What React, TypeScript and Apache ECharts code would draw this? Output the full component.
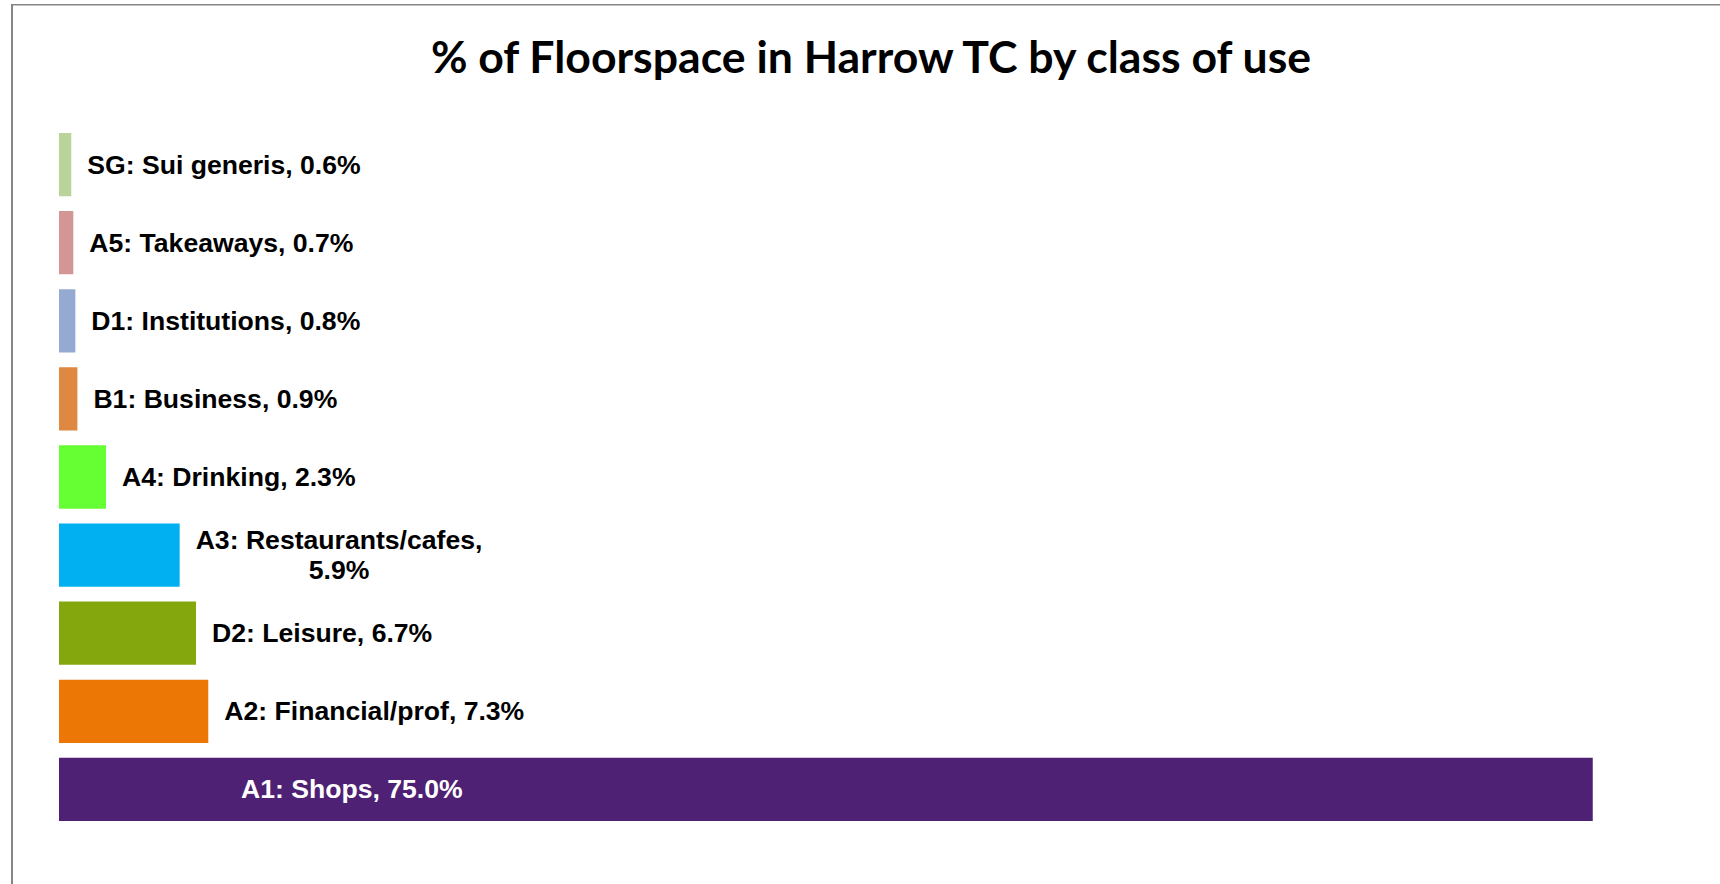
import React, { useEffect, useRef } from "react";
import * as echarts from "echarts";

const titleText = "% of Floorspace in Harrow TC by class of use";
const categories = [
  "SG: Sui generis",
  "A5: Takeaways",
  "D1: Institutions",
  "B1: Business",
  "A4: Drinking",
  "A3: Restaurants/cafes",
  "D2: Leisure",
  "A2: Financial/prof",
  "A1: Shops",
];
const values = [0.6, 0.7, 0.8, 0.9, 2.3, 5.9, 6.7, 7.3, 75.0];
const colors = [
  "#B9D39B",
  "#D49595",
  "#95AAD3",
  "#DE8842",
  "#66FF33",
  "#00B0F0",
  "#84A70E",
  "#EC7705",
  "#4E2174",
];

export default function App() {
  const ref = useRef<HTMLDivElement>(null);
  useEffect(() => {
    if (!ref.current) return;
    const chart = echarts.init(ref.current, null, { renderer: "svg" });
    const labelFont = {
      fontFamily: "'Liberation Sans', Arial, sans-serif",
      fontWeight: "bold" as const,
      fontSize: 26.6,
      color: "#000",
    };
    const data = values.map((v, i) => {
      const name = categories[i];
      const item: any = {
        value: v,
        itemStyle: { color: colors[i] },
      };
      if (name.startsWith("A1")) {
        item.label = {
          position: "insideLeft",
          distance: 182,
          color: "#fff",
        };
      } else if (name.startsWith("A3")) {
        item.label = {
          formatter: () => `{c|${name},}\n{c|${v.toFixed(1)}%}`,
          rich: {
            c: { ...labelFont, align: "center", lineHeight: 29.5 },
          },
        };
      }
      return item;
    });
    chart.setOption({
      animation: false,
      backgroundColor: "#fff",
      title: {
        text: titleText,
        left: 866,
        textAlign: "center",
        top: 28,
        textStyle: {
          fontFamily: "Lato, 'Open Sans', sans-serif",
          fontWeight: "bold",
          fontSize: 44.6,
          color: "#000",
        },
      },
      graphic: [
        {
          type: "line",
          shape: { x1: 12, y1: 4, x2: 12, y2: 900 },
          style: { stroke: "#868686", lineWidth: 2 },
        },
        {
          type: "line",
          shape: { x1: 11, y1: 4.75, x2: 1730, y2: 4.75 },
          style: { stroke: "#868686", lineWidth: 1.5 },
        },
      ],
      grid: { left: 59, right: 25, top: 125.5, bottom: 55.5, containLabel: false },
      xAxis: {
        type: "value",
        min: 0,
        max: 80,
        show: false,
      },
      yAxis: {
        type: "category",
        data: categories,
        inverse: true,
        show: false,
      },
      series: [
        {
          type: "bar",
          data,
          barCategoryGap: "19%",
          label: {
            show: true,
            position: "right",
            distance: 16,
            ...labelFont,
            formatter: (p: any) => `${p.name}, ${Number(p.value).toFixed(1)}%`,
          },
        },
      ],
    });
    return () => chart.dispose();
  }, []);
  return (
    <div
      ref={ref}
      style={{ position: "fixed", left: 0, top: 0, width: 1720, height: 884 }}
    />
  );
}
